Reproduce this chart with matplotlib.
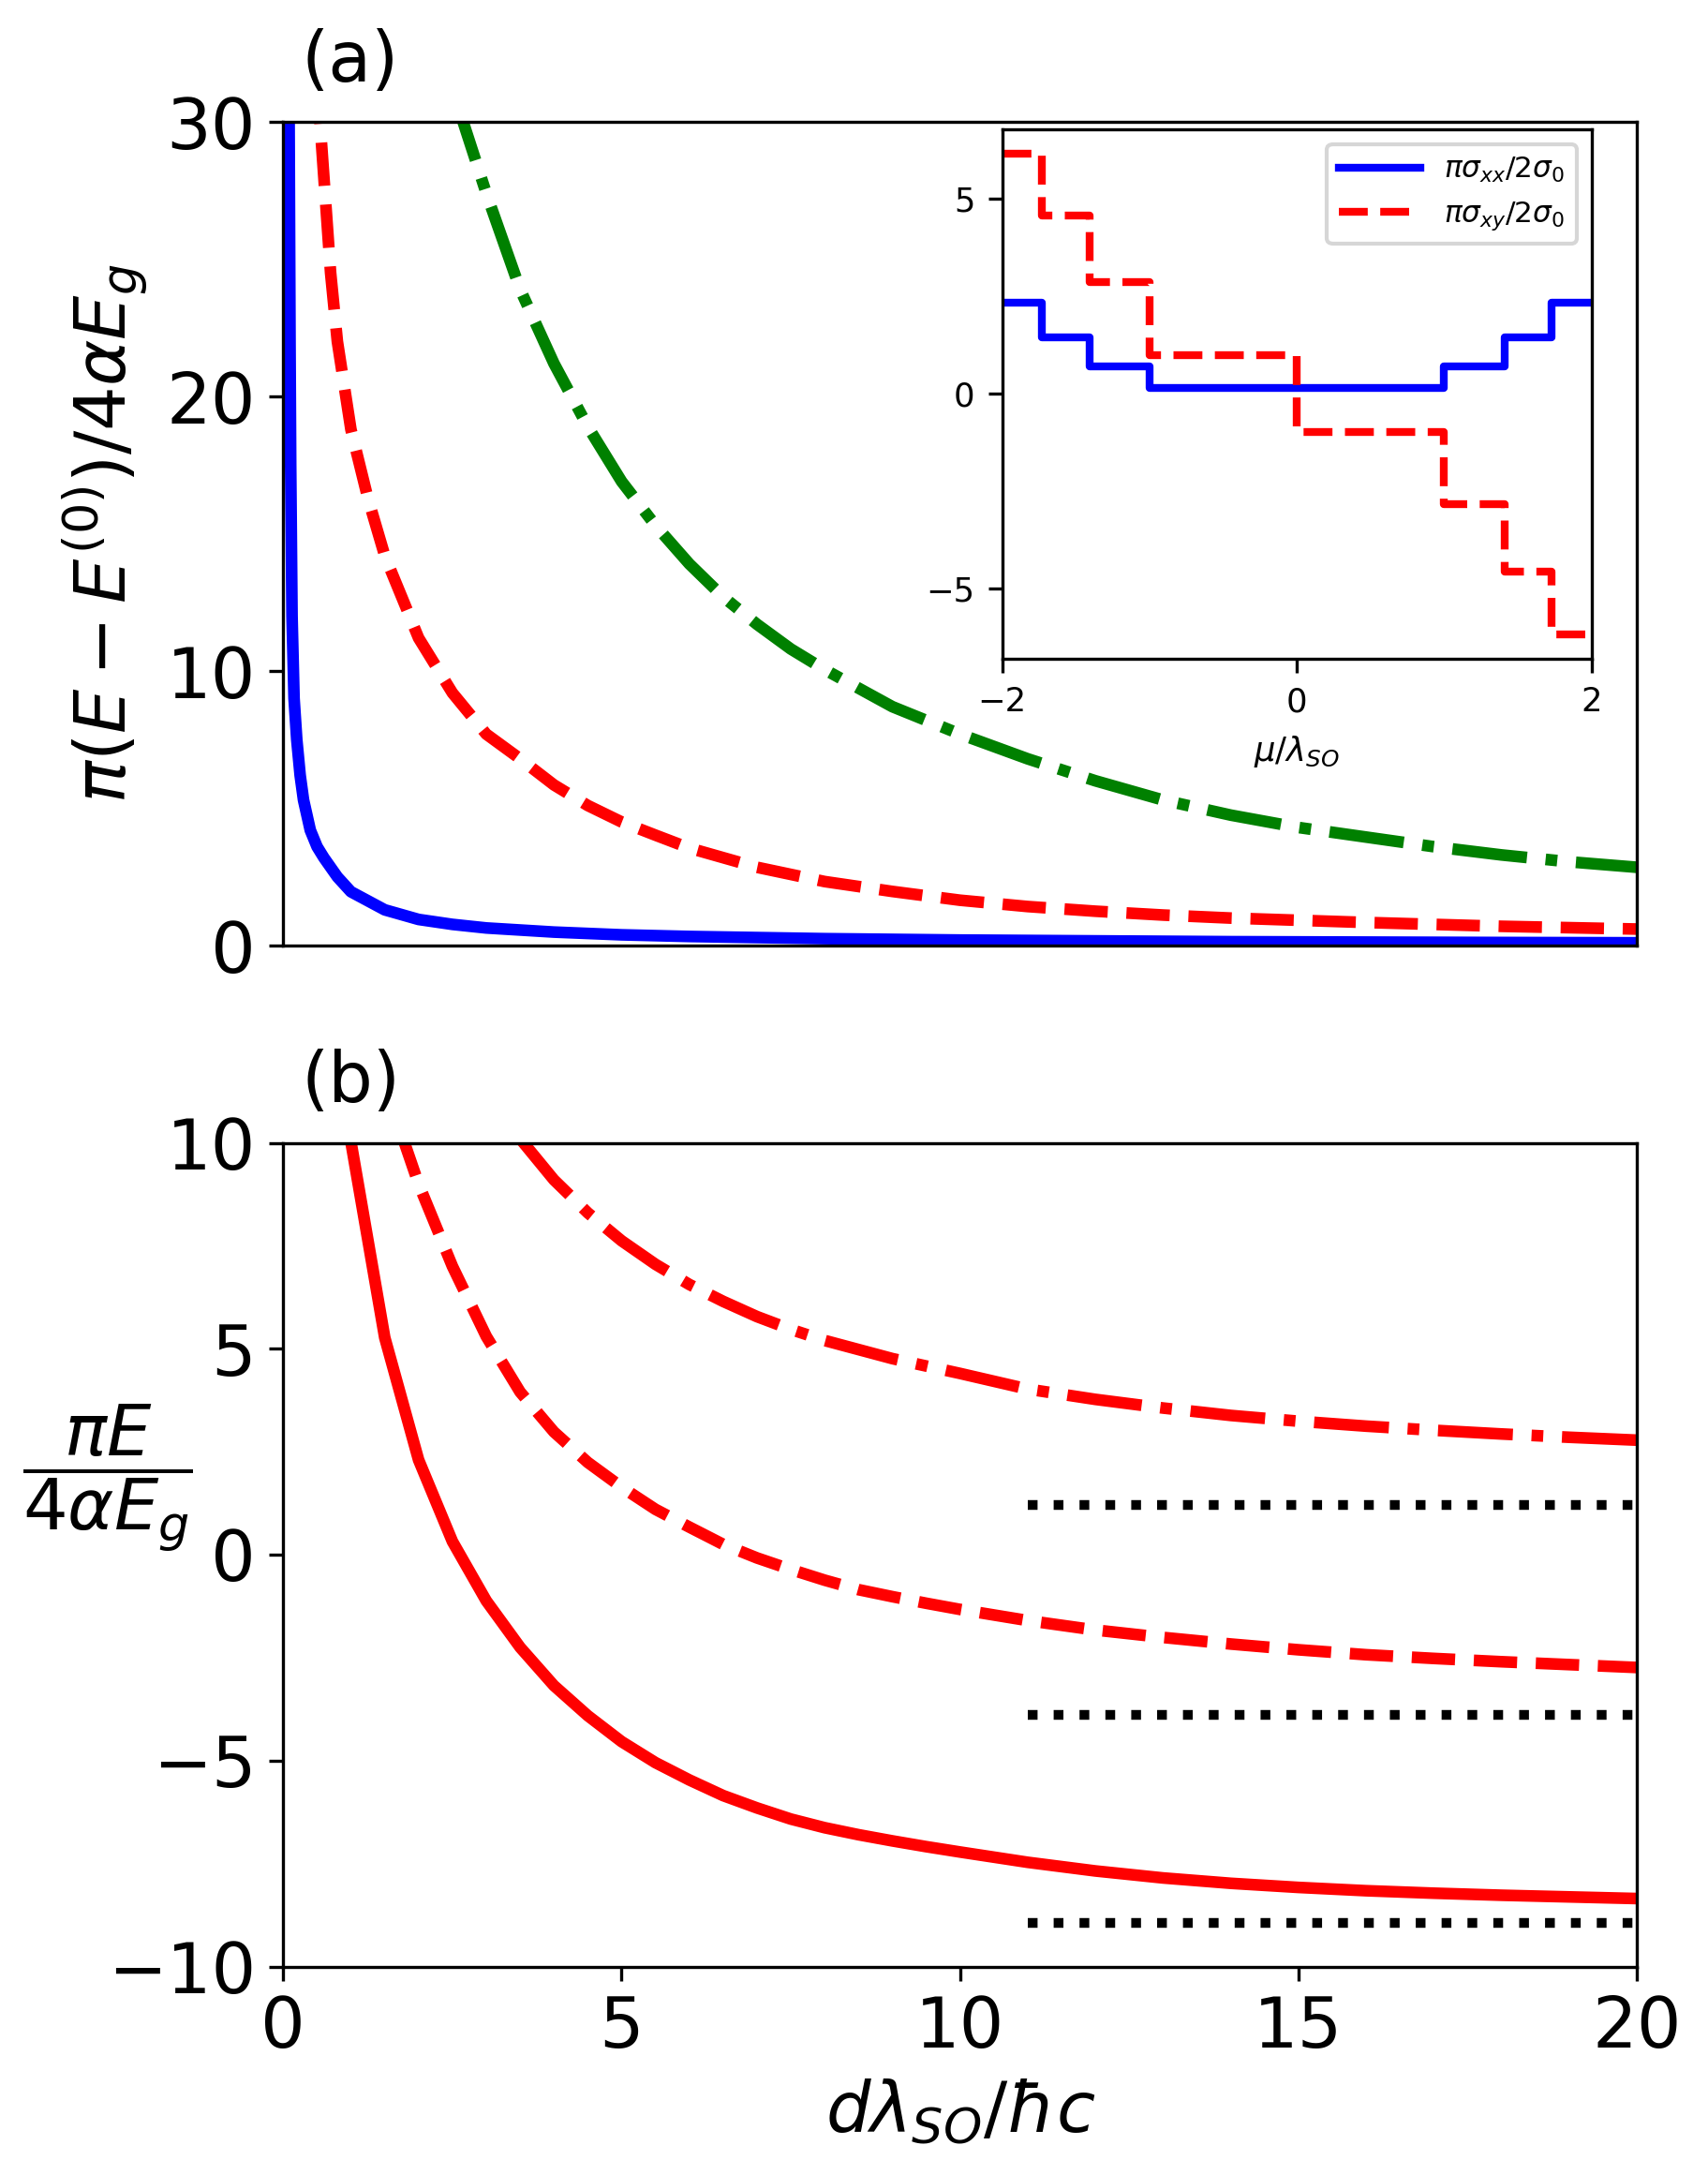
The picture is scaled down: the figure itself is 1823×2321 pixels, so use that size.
import numpy as np
import matplotlib
matplotlib.use("Agg")
import matplotlib.pyplot as plt

# ---- panel (a): energy shift vs d*lambda_SO/hbar c ----
xa_blue = [0.085, 0.09, 0.1, 0.11, 0.13, 0.16, 0.2, 0.25, 0.3, 0.4, 0.5, 0.6, 0.8, 1.0,
           1.5, 2.0, 2.5, 3.0, 4.0, 5.0, 6.0, 8.0, 10.0, 12.0, 14.0, 16.0, 18.0, 20.0]
ya_blue = [31.0, 28.0, 22.0, 17.5, 12.0, 9.0, 7.5, 6.2, 5.3, 4.2, 3.6, 3.2, 2.5, 1.96,
           1.3, 0.95, 0.77, 0.64, 0.49, 0.39, 0.33, 0.25, 0.2, 0.17, 0.14, 0.125, 0.11, 0.1]

xa_red = [0.5, 0.6, 0.7, 0.8, 1.0, 1.25, 1.5, 2.0, 2.5, 3.0, 3.5, 4.0, 4.5, 5.0, 5.5,
          6.0, 7.0, 8.0, 9.0, 10.0, 11.0, 12.0, 13.0, 14.0, 15.0, 16.0, 17.0, 18.0, 19.0, 20.0]
ya_red = [31.5, 28.0, 24.5, 22.0, 18.8, 16.3, 14.2, 11.2, 9.2, 7.7, 6.8, 5.85, 5.1, 4.5, 4.02,
          3.55, 2.85, 2.33, 1.97, 1.65, 1.42, 1.25, 1.11, 1.0, 0.92, 0.84, 0.77, 0.7, 0.65, 0.6]

xa_green = [2.5, 3.0, 3.5, 4.0, 4.5, 5.0, 5.5, 6.0, 6.5, 7.0, 7.5, 8.0, 9.0, 10.0,
            11.0, 12.0, 13.0, 14.0, 15.0, 16.0, 17.0, 18.0, 19.0, 20.0]
ya_green = [31.2, 27.4, 23.9, 21.2, 18.9, 16.9, 15.3, 13.9, 12.7, 11.7, 10.8, 10.05, 8.7, 7.7,
            6.8, 6.0, 5.3, 4.75, 4.3, 3.95, 3.6, 3.3, 3.05, 2.85]

# ---- inset: conductivities vs mu/lambda_SO ----
mu_edges = [-2.0, -1.73, -1.41, -1.0, 0.0, 1.0, 1.41, 1.73, 2.0]
sig_xx = [2.32, 1.44, 0.70, 0.13, 0.13, 0.70, 1.44, 2.32]
sig_xy = [6.16, 4.56, 2.86, 0.99, -1.0, -2.85, -4.57, -6.19]

# ---- panel (b): energies ----
xb_solid = [0.95, 1.5, 2.0, 2.5, 3.0, 3.5, 4.0, 4.5, 5.0, 5.5, 6.0, 6.5, 7.0, 7.5, 8.0, 8.5,
            9.0, 9.5, 10.0, 11.0, 12.0, 13.0, 14.0, 15.0, 16.0, 17.0, 18.0, 19.0, 20.0]
yb_solid = [10.5, 5.27, 2.3, 0.32, -1.12, -2.25, -3.18, -3.91, -4.54, -5.05, -5.47, -5.85,
            -6.15, -6.42, -6.63, -6.8, -6.95, -7.09, -7.22, -7.47, -7.68, -7.85, -7.98, -8.08,
            -8.16, -8.22, -8.27, -8.31, -8.35]

xb_dash = [1.75, 2.0, 2.5, 3.0, 3.5, 4.0, 4.5, 5.0, 5.5, 6.0, 6.5, 7.0, 7.5, 8.0, 8.5,
           9.0, 9.5, 10.0, 11.0, 12.0, 13.0, 14.0, 15.0, 16.0, 17.0, 18.0, 19.0, 20.0]
yb_dash = [10.2, 9.0, 7.0, 5.3, 3.95, 2.98, 2.24, 1.64, 1.1, 0.67, 0.25, -0.08, -0.36, -0.62,
           -0.85, -1.02, -1.18, -1.33, -1.6, -1.83, -2.01, -2.17, -2.31, -2.43, -2.52, -2.6,
           -2.67, -2.74]

xb_dd = [3.5, 4.0, 4.5, 5.0, 5.5, 6.0, 6.5, 7.0, 7.5, 8.0, 9.0, 10.0, 11.0, 12.0, 13.0,
         14.0, 15.0, 16.0, 17.0, 18.0, 19.0, 20.0]
yb_dd = [10.1, 9.1, 8.3, 7.62, 7.05, 6.56, 6.15, 5.78, 5.47, 5.2, 4.76, 4.4, 4.02, 3.77,
         3.56, 3.38, 3.24, 3.12, 3.02, 2.93, 2.85, 2.78]

# asymptotes (dotted)
asym_x = [11.0, 20.0]
asym_y = [1.2, -3.9, -8.95]

W, H, DPI = 1823, 2321, 300
fig = plt.figure(figsize=(W / DPI, H / DPI), dpi=DPI)

left = 302.3 / W
width = (1747 - 302.3) / W
hgt = 879 / H

# panel (a)
ax1 = fig.add_axes([left, 1 - 1009 / H, width, hgt])
ax1.plot(xa_blue, ya_blue, 'b-', lw=3)
ax1.plot(xa_red, ya_red, 'r--', lw=3)
ax1.plot(xa_green, ya_green, 'g-.', lw=3)
ax1.set_xlim(0, 20)
ax1.set_ylim(0, 30)
ax1.set_xticks([])
ax1.set_yticks([0, 10, 20, 30])
ax1.tick_params(labelsize=18)
ax1.set_ylabel(r'$\pi(E-E^{(0)})/4\alpha E_g$', fontsize=18)
ax1.text(0.013, 1.049, '(a)', transform=ax1.transAxes, fontsize=18, va='baseline')

# inset
axin = fig.add_axes([1069.8 / W, 1 - 703 / H, (1698.5 - 1069.8) / W, 565 / H])
axin.step(mu_edges, sig_xx + [sig_xx[-1]], 'b-', where='post', lw=2,
          label=r'$\pi\sigma_{xx}/2\sigma_0$')
axin.step(mu_edges, sig_xy + [sig_xy[-1]], 'r--', where='post', lw=2,
          label=r'$\pi\sigma_{xy}/2\sigma_0$')
axin.set_xlim(-2, 2)
axin.set_xticks([-2, 0, 2])
axin.set_yticks([-5, 0, 5])
axin.tick_params(labelsize=8.5)
axin.set_xlabel(r'$\mu/\lambda_{SO}$', fontsize=8.5)
axin.legend(loc='upper right', fontsize=7.5, handlelength=2.8)

# panel (b)
ax2 = fig.add_axes([left, 1 - 2098.5 / H, width, hgt])
ax2.plot(xb_solid, yb_solid, 'r-', lw=3)
ax2.plot(xb_dash, yb_dash, 'r--', lw=3)
ax2.plot(xb_dd, yb_dd, 'r-.', lw=3)
for y0 in asym_y:
    ax2.plot(asym_x, [y0, y0], 'k:', lw=2.5)
ax2.set_xlim(0, 20)
ax2.set_ylim(-10, 10)
ax2.set_xticks([0, 5, 10, 15, 20])
ax2.set_yticks([-10, -5, 0, 5, 10])
ax2.tick_params(labelsize=18)
ax2.set_xlabel(r'$d\lambda_{SO}/\hbar c$', fontsize=18)
ax2.set_ylabel(r'$\dfrac{\pi E}{4\alpha E_g}$', fontsize=18, rotation=0)
ax2.yaxis.set_label_coords(-0.13, 0.5)
ax2.text(0.013, 1.049, '(b)', transform=ax2.transAxes, fontsize=18, va='baseline')

fig.savefig('out.png', dpi=DPI)
